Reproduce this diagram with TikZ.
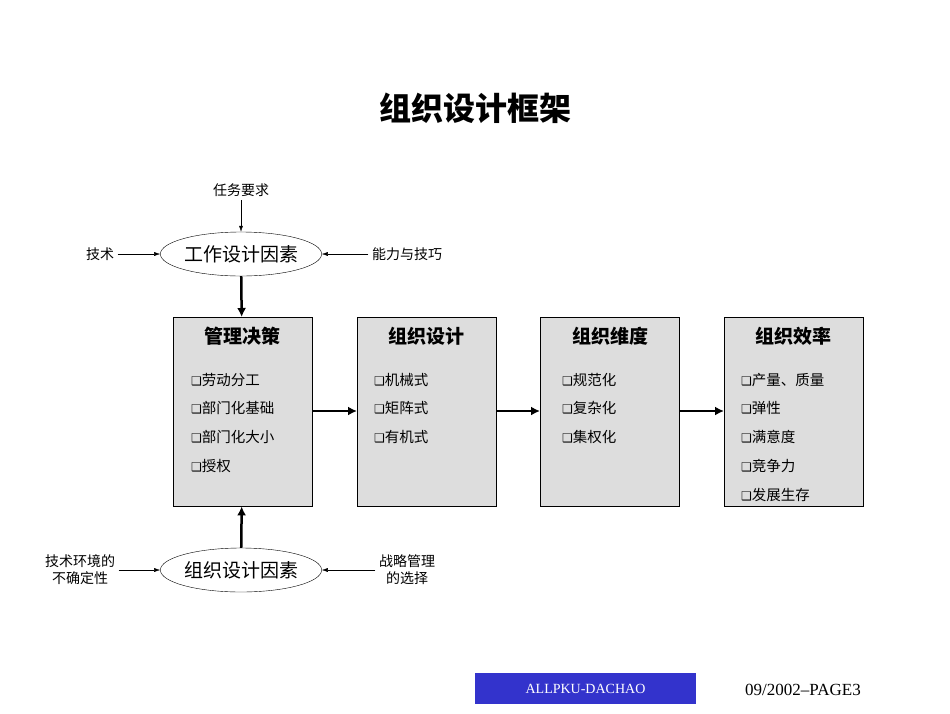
\documentclass[tikz,border=0pt]{standalone}
\usepackage{fontspec}
\setmainfont{Liberation Serif}
\newfontfamily\cjk{Noto Sans CJK SC}
\newfontfamily\symb{DejaVu Sans}
\usetikzlibrary{shapes.geometric,arrows.meta}
\definecolor{boxgray}{RGB}{221,221,221}
\definecolor{footblue}{RGB}{51,51,204}
\newcommand{\cb}{{\symb\fontsize{12}{14}\selectfont ❑}}

\begin{document}
\begin{tikzpicture}[x=1pt,y=-1pt,
    factor/.style={ellipse,draw,minimum width=150pt,minimum height=44pt,inner sep=0pt,font=\cjk\fontsize{19}{22}\selectfont},
    side/.style={font=\cjk\fontsize{14}{17}\selectfont,align=center},
    stage/.style={draw,fill=boxgray,minimum width=139pt,minimum height=189pt,anchor=north west},
    head/.style={font=\cjk\bfseries\fontsize{19}{22}\selectfont},
    item/.style={anchor=west,inner sep=0pt,font=\cjk\fontsize{14.5}{17}\selectfont},
    thin/.style={-{Latex[length=6pt,width=4pt]}},
    thick/.style={line width=2.5pt,-{Latex[length=9pt,width=9pt]}}]
    \useasboundingbox (0,0) rectangle (950,713);

    % Title
    \node[font=\cjk\bfseries\fontsize{32}{36}\selectfont] (title) at (475,108) {组织设计框架};

    % Upper factors
    \node[factor] (work) at (241,254) {工作设计因素};
    \node[side] (task) at (241,190) {任务要求};
    \node[side] (tech) at (100,254) {技术};
    \node[side] (skill) at (407,254) {能力与技巧};
    \draw[thin] (task) -- (work);
    \draw[thin] (tech) -- (work);
    \draw[thin] (skill) -- (work);

    % Stages
    \node[stage] (s1) at (173,317) {};
    \node[stage] (s2) at (357,317) {};
    \node[stage] (s3) at (540,317) {};
    \node[stage] (s4) at (724,317) {};
    \node[head] at (242,336) {管理决策};
    \node[head] at (426,336) {组织设计};
    \node[head] at (610,336) {组织维度};
    \node[head] at (793,336) {组织效率};
    \foreach \t [count=\i] in {劳动分工,部门化基础,部门化大小,授权}
        \node[item] at (191,351+28.7*\i) {\cb\t};
    \foreach \t [count=\i] in {机械式,矩阵式,有机式}
        \node[item] at (374,351+28.7*\i) {\cb\t};
    \foreach \t [count=\i] in {规范化,复杂化,集权化}
        \node[item] at (562,351+28.7*\i) {\cb\t};
    \foreach \t [count=\i] in {产量、质量,弹性,满意度,竞争力,发展生存}
        \node[item] at (741,351+28.7*\i) {\cb\t};
    \draw[thick] (work) -- (s1);
    \draw[thick] (s1.east |- 0,411) -- (s2.west |- 0,411);
    \draw[thick] (s2.east |- 0,411) -- (s3.west |- 0,411);
    \draw[thick] (s3.east |- 0,411) -- (s4.west |- 0,411);

    % Lower factors
    \node[factor] (org) at (241,570) {组织设计因素};
    \node[side] (env) at (80,570) {技术环境的\\不确定性};
    \node[side] (strat) at (407,570) {战略管理\\的选择};
    \draw[thin] (env) -- (org);
    \draw[thin] (strat) -- (org);
    \draw[thick] (org) -- (s1);

    % Footer
    \node[fill=footblue,text=white,minimum width=221pt,minimum height=31pt,font=\fontsize{14}{16}\selectfont] (brand) at (585.5,688.5) {ALLPKU-DACHAO};
    \node[font=\fontsize{17}{20}\selectfont] (page) at (803,690) {09/2002--PAGE3};
\end{tikzpicture}
\end{document}
